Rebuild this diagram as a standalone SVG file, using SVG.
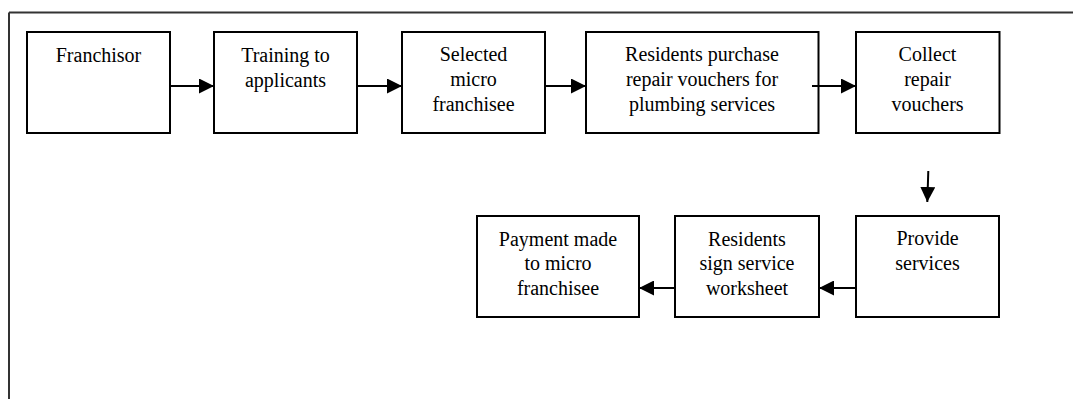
<svg xmlns="http://www.w3.org/2000/svg" width="1073" height="399" viewBox="0 0 1073 399">
  <style>
    .box { fill: #ffffff; stroke: #000000; stroke-width: 2; }
    .lbl { font-family: "Liberation Serif", "Times New Roman", serif; font-size: 20px; fill: #000000; text-anchor: middle; }
    .edge { stroke: #000000; stroke-width: 2; fill: none; marker-end: url(#head); }
    .frame { stroke: #333333; stroke-width: 2; fill: none; }
  </style>
  <defs>
    <marker id="head" markerUnits="userSpaceOnUse" markerWidth="15" markerHeight="15" refX="15" refY="7.5" orient="auto">
      <path d="M0,0 L15,7.5 L0,15 z" fill="#000000"/>
    </marker>
  </defs>

  <rect width="1073" height="399" fill="#ffffff"/>

  <!-- outer frame: top and left borders -->
  <g id="frame">
    <line class="frame" x1="9" y1="12.5" x2="1073" y2="12.5"/>
    <line class="frame" x1="9" y1="12.5" x2="9" y2="399"/>
  </g>

  <!-- top row -->
  <g id="franchisor">
    <rect class="box" x="27" y="32" width="143" height="101"/>
    <text class="lbl" x="98.5" y="62">Franchisor</text>
  </g>
  <g id="training">
    <rect class="box" x="214" y="32" width="143" height="101"/>
    <text class="lbl" x="285.5" y="62">Training to</text>
    <text class="lbl" x="285.5" y="87">applicants</text>
  </g>
  <g id="selected">
    <rect class="box" x="402" y="32" width="143" height="101"/>
    <text class="lbl" x="473.5" y="61">Selected</text>
    <text class="lbl" x="473.5" y="86">micro</text>
    <text class="lbl" x="473.5" y="110.5">franchisee</text>
  </g>
  <g id="purchase">
    <rect class="box" x="586" y="32" width="232.5" height="101"/>
    <text class="lbl" x="702" y="61">Residents purchase</text>
    <text class="lbl" x="702" y="86">repair vouchers for</text>
    <text class="lbl" x="702" y="110.5">plumbing services</text>
  </g>
  <g id="collect">
    <rect class="box" x="856" y="32" width="143.5" height="101"/>
    <text class="lbl" x="927.5" y="61">Collect</text>
    <text class="lbl" x="927.5" y="86">repair</text>
    <text class="lbl" x="927.5" y="110.5">vouchers</text>
  </g>

  <!-- bottom row -->
  <g id="provide">
    <rect class="box" x="856" y="216" width="143" height="101"/>
    <text class="lbl" x="927.5" y="245">Provide</text>
    <text class="lbl" x="927.5" y="269.5">services</text>
  </g>
  <g id="sign">
    <rect class="box" x="675" y="216" width="144" height="101"/>
    <text class="lbl" x="747" y="245.5">Residents</text>
    <text class="lbl" x="747" y="270">sign service</text>
    <text class="lbl" x="747" y="295">worksheet</text>
  </g>
  <g id="payment">
    <rect class="box" x="477" y="216" width="162" height="101"/>
    <text class="lbl" x="558" y="245.5">Payment made</text>
    <text class="lbl" x="558" y="270">to micro</text>
    <text class="lbl" x="558" y="295">franchisee</text>
  </g>

  <!-- connectors -->
  <g id="connectors">
    <line class="edge" x1="170" y1="86" x2="214" y2="86"/>
    <line class="edge" x1="357" y1="86" x2="402" y2="86"/>
    <line class="edge" x1="545" y1="86" x2="586" y2="86"/>
    <line class="edge" x1="812" y1="86" x2="856" y2="86"/>
    <line class="edge" x1="928.3" y1="171" x2="927.3" y2="202"/>
    <line class="edge" x1="856" y1="288" x2="819" y2="288"/>
    <line class="edge" x1="675" y1="288" x2="639" y2="288"/>
  </g>
</svg>
